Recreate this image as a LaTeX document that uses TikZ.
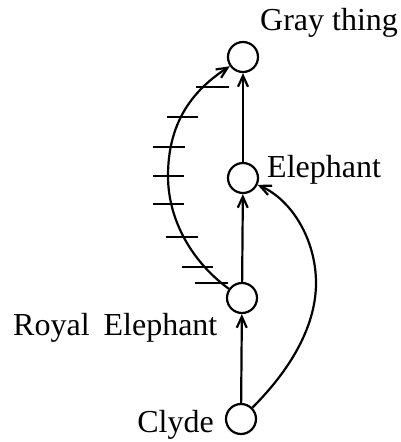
\documentclass[tikz,border=0pt]{standalone}
\usepackage{fontspec}
\setmainfont{Liberation Serif}
\usetikzlibrary{arrows.meta}
\tikzset{
  vert/.style={draw,circle,minimum size=30pt,inner sep=0pt,line width=2.2pt},
  isa/.style={line width=2.2pt,-{Straight Barb[length=11pt,width=10pt,line width=2.2pt]}},
  lbl/.style={inner sep=0pt,font=\fontsize{32}{36}\selectfont}
}
\begin{document}
\begin{tikzpicture}[x=1pt,y=-1pt]
  \useasboundingbox (0,0) rectangle (401,442);
  \node[vert] (gray) at (243,57) {};
  \node[vert] (eleph) at (243,178) {};
  \node[vert] (royal) at (242,298) {};
  \node[vert] (clyde) at (241,419) {};
  \node[lbl,anchor=base west] (grayl) at (260,30) {Gray thing};
  \node[lbl,anchor=base west] (elephl) at (267,177) {Elephant};
  \node[lbl,anchor=base west] (royall) at (13,335) {Royal\hspace{14pt}Elephant};
  \node[lbl,anchor=base east] (clydel) at (214,432) {Clyde};
  \draw[isa] (clyde) -- (royal);
  \draw[isa] (royal) -- (eleph);
  \draw[isa] (eleph) -- (gray);
  \draw[isa] (clyde.45) .. controls (295,365) and (316,322) .. (316,283)
    .. controls (316,240) and (292,200) .. (eleph.-25);
  % negated edge
  \draw[isa] (royal.145) .. controls (192,262) and (168,220) .. (168,176)
    .. controls (168,125) and (190,92) .. (gray.-145);
  \foreach \y/\xa/\xb in {87/196/229,117/167/198,147/153/185,176/153/184,
    204/153/184,237/166/198,267/182/213,283/195/228}
    \draw[line width=2pt] (\xa,\y) -- (\xb,\y);
\end{tikzpicture}
\end{document}
